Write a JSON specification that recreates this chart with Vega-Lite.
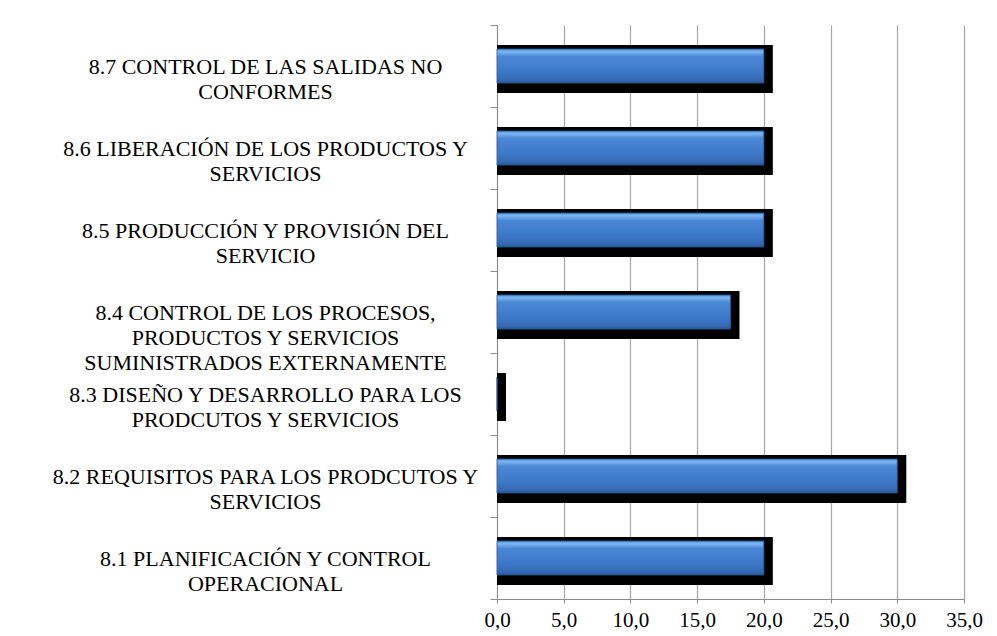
{
  "$schema": "https://vega.github.io/schema/vega-lite/v6.json",
  "autosize": {"type": "none"},
  "width": 467,
  "height": 574,
  "padding": {"left": 497, "top": 25, "right": 33, "bottom": 37},
  "background": "white",
  "data": {
    "values": [
      {"categoria": "8.7 CONTROL DE LAS SALIDAS NO\nCONFORMES", "valor": 20.0},
      {"categoria": "8.6 LIBERACIÓN DE LOS PRODUCTOS Y\nSERVICIOS", "valor": 20.0},
      {"categoria": "8.5 PRODUCCIÓN Y PROVISIÓN DEL\nSERVICIO", "valor": 20.0},
      {"categoria": "8.4 CONTROL DE LOS PROCESOS,\nPRODUCTOS Y SERVICIOS\nSUMINISTRADOS EXTERNAMENTE", "valor": 17.5},
      {"categoria": "8.3 DISEÑO Y DESARROLLO PARA LOS\nPRODCUTOS Y SERVICIOS", "valor": 0.0},
      {"categoria": "8.2 REQUISITOS PARA LOS PRODCUTOS Y\nSERVICIOS", "valor": 30.0},
      {"categoria": "8.1 PLANIFICACIÓN Y CONTROL\nOPERACIONAL", "valor": 20.0}
    ]
  },
  "encoding": {
    "y": {
      "field": "categoria",
      "type": "nominal",
      "sort": null,
      "title": null,
      "scale": {"paddingInner": 0, "paddingOuter": 0},
      "axis": {
        "labelExpr": "split(datum.label, '\\n')",
        "labelFont": "Liberation Serif",
        "labelFontSize": 22,
        "labelColor": "#000000",
        "labelAlign": "center",
        "labelBaseline": "middle",
        "labelLineHeight": 25,
        "labelPadding": 225,
        "labelLimit": 600,
        "tickBand": "extent",
        "tickSize": 7,
        "tickColor": "#8c8c8c",
        "domainColor": "#8c8c8c",
        "grid": false
      }
    },
    "x": {
      "field": "valor",
      "type": "quantitative",
      "title": null,
      "scale": {"domain": [0, 35], "nice": false, "zero": true},
      "axis": {
        "values": [0, 5, 10, 15, 20, 25, 30, 35],
        "labelExpr": "replace(format(datum.value, '.1f'), '.', ',')",
        "labelFont": "Liberation Serif",
        "labelFontSize": 21,
        "labelColor": "#000000",
        "labelPadding": 6,
        "labelFlush": false,
        "tickSize": 4,
        "tickColor": "#8c8c8c",
        "domainColor": "#8c8c8c",
        "grid": true,
        "gridColor": "#a6a6a6",
        "gridWidth": 1.2
      }
    }
  },
  "layer": [
    {
      "mark": {"type": "bar", "color": "#000000", "height": 48, "yOffset": 3, "xOffset": 9, "x2Offset": 0},
      "encoding": {"x2": {"datum": 0}}
    },
    {
      "mark": {
        "type": "bar",
        "height": 34,
        "stroke": "#2a5a9a",
        "strokeWidth": 0.8,
        "color": {
          "gradient": "linear",
          "x1": 0, "y1": 0, "x2": 0, "y2": 1,
          "stops": [
            {"offset": 0, "color": "#4f8fda"},
            {"offset": 0.08, "color": "#7db6f2"},
            {"offset": 0.22, "color": "#4a88d6"},
            {"offset": 0.7, "color": "#3b77c4"},
            {"offset": 0.92, "color": "#3468b2"},
            {"offset": 1, "color": "#2a5590"}
          ]
        }
      }
    }
  ],
  "config": {"view": {"stroke": null}}
}
